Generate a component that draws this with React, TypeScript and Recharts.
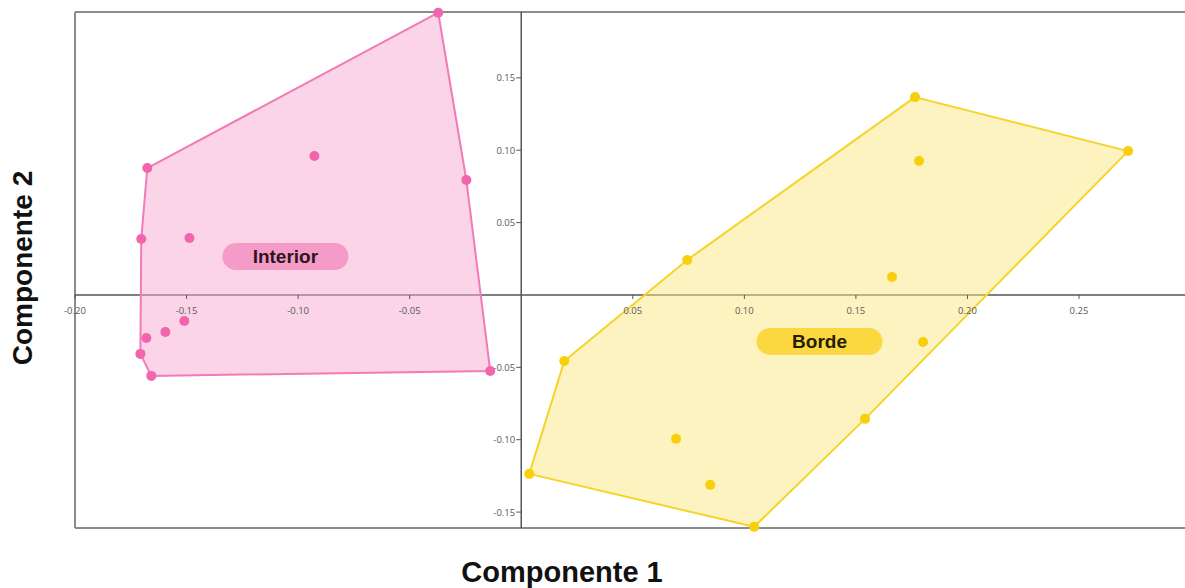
import React from 'react'
import { ScatterChart, Scatter, XAxis, YAxis, ReferenceLine } from 'recharts'

// Component scores for each group
const interiorX = [-0.0372, -0.1676, -0.0927, -0.0246, -0.1703, -0.1487, -0.151, -0.1595, -0.168, -0.1707, -0.1658, -0.0139]
const interiorY = [0.195, 0.0877, 0.096, 0.0794, 0.0387, 0.0394, -0.018, -0.0256, -0.0297, -0.0407, -0.0559, -0.0525]
// convex hull, clockwise, as indices into the arrays above
const interiorHull = [0, 3, 11, 10, 9, 4, 1]

const bordeX = [0.1765, 0.272, 0.1783, 0.0744, 0.1662, 0.1801, 0.1541, 0.0694, 0.0847, 0.1044, 0.0193, 0.0036]
const bordeY = [0.1367, 0.0994, 0.0925, 0.0242, 0.0124, -0.0325, -0.0856, -0.0994, -0.1312, -0.1602, -0.0456, -0.1236]
const bordeHull = [0, 1, 6, 9, 11, 10, 3]

const groupNames = ['Interior', 'Borde']
const groupLabelX = [-0.1057, 0.1337]
const groupLabelY = [0.0266, -0.0321]

const xTicks = [-0.2, -0.15, -0.1, -0.05, 0.05, 0.1, 0.15, 0.2, 0.25]
const yTicks = [0.15, 0.1, 0.05, -0.05, -0.1, -0.15]

const xDomain = [-0.2, 0.2975]
const yDomain = [-0.161, 0.1955]

const PINK = { dot: '#f264ab', line: '#f27ab8', fill: 'rgba(248, 170, 210, 0.5)', badge: '#f59bc8', text: '#2b1620' }
const YELLOW = { dot: '#f8cf0a', line: '#f5d42a', fill: 'rgba(252, 232, 130, 0.5)', badge: '#fcd840', text: '#241d00' }

const toPoints = (xs: number[], ys: number[]) => xs.map((x, i) => ({ x, y: ys[i] }))
const interiorPts = toPoints(interiorX, interiorY)
const bordePts = toPoints(bordeX, bordeY)
const interiorHullPts = interiorHull.map(i => interiorPts[i])
const bordeHullPts = bordeHull.map(i => bordePts[i])
const labelPts = groupNames.map((name, i) => ({ x: groupLabelX[i], y: groupLabelY[i], name }))
const xTickPts = xTicks.map(x => ({ x, y: 0 }))
const yTickPts = yTicks.map(y => ({ x: 0, y }))

const tickFont = { fontFamily: '"Open Sans", sans-serif', fontSize: 9.5, fill: '#5a5a5a' }

const emptyShape = () => <g />

function hullPolygon(fill: string, stroke: string) {
  return (p: any) => (
    <polygon
      points={(p.points || []).map((pt: any) => `${pt.x},${pt.y}`).join(' ')}
      fill={fill}
      stroke={stroke}
      strokeWidth={2}
      strokeLinejoin="round"
    />
  )
}

function dot(color: string) {
  return (p: any) => <circle cx={p.cx} cy={p.cy} r={5} fill={color} />
}

function Badge(p: any) {
  const c = p.payload.name === 'Interior' ? PINK : YELLOW
  return (
    <g>
      <rect x={p.cx - 63} y={p.cy - 13.5} width={126} height={27} rx={13.5} fill={c.badge} />
      <text
        x={p.cx}
        y={p.cy + 7}
        textAnchor="middle"
        fontFamily='"Liberation Sans", Arial, sans-serif'
        fontWeight="bold"
        fontSize={19}
        fill={c.text}
      >
        {p.payload.name}
      </text>
    </g>
  )
}

function XTick(p: any) {
  return (
    <g>
      <line x1={p.cx} y1={p.cy} x2={p.cx} y2={p.cy + 4} stroke="#555" strokeWidth={1} />
      <text x={p.cx} y={p.cy + 19} textAnchor="middle" {...tickFont}>
        {p.payload.x.toFixed(2)}
      </text>
    </g>
  )
}

function YTick(p: any) {
  return (
    <g>
      <line x1={p.cx - 5} y1={p.cy} x2={p.cx} y2={p.cy} stroke="#555" strokeWidth={1} />
      <text x={p.cx - 6} y={p.cy + 3.5} textAnchor="end" {...tickFont}>
        {p.payload.y.toFixed(2)}
      </text>
    </g>
  )
}

const titleStyle: React.CSSProperties = {
  position: 'absolute',
  fontFamily: '"Liberation Sans", Arial, sans-serif',
  fontWeight: 'bold',
  color: '#111',
  whiteSpace: 'nowrap',
  lineHeight: 1,
}

export default function App() {
  return (
    <div style={{ position: 'absolute', left: 0, top: 0, width: 1185, height: 588, background: '#fff' }}>
      <ScatterChart width={1185} height={588} margin={{ top: 12, right: 0, bottom: 60, left: 75 }}>
        <XAxis type="number" dataKey="x" domain={xDomain} hide />
        <YAxis type="number" dataKey="y" domain={yDomain} hide />

        {/* plot frame */}
        <ReferenceLine y={yDomain[1]} stroke="#8c8c8c" strokeWidth={2} />
        <ReferenceLine y={yDomain[0]} stroke="#8c8c8c" strokeWidth={2} />
        <ReferenceLine x={xDomain[0]} stroke="#8c8c8c" strokeWidth={2} />

        <Scatter data={interiorHullPts} shape={emptyShape} line={hullPolygon(PINK.fill, PINK.line)} isAnimationActive={false} />
        <Scatter data={bordeHullPts} shape={emptyShape} line={hullPolygon(YELLOW.fill, YELLOW.line)} isAnimationActive={false} />

        {/* axes through the origin */}
        <ReferenceLine y={0} stroke="#555" strokeWidth={1.5} />
        <ReferenceLine x={0} stroke="#555" strokeWidth={1.5} />
        <Scatter data={xTickPts} shape={XTick} isAnimationActive={false} />
        <Scatter data={yTickPts} shape={YTick} isAnimationActive={false} />

        <Scatter data={interiorPts} shape={dot(PINK.dot)} isAnimationActive={false} />
        <Scatter data={bordePts} shape={dot(YELLOW.dot)} isAnimationActive={false} />
        <Scatter data={labelPts} shape={Badge} isAnimationActive={false} />
      </ScatterChart>

      <div style={{ ...titleStyle, fontSize: 29, left: 562, top: 558, transform: 'translateX(-50%)' }}>Componente 1</div>
      <div
        style={{
          ...titleStyle,
          fontSize: 28,
          left: 23,
          top: 268,
          transform: 'translate(-50%, -50%) rotate(-90deg)',
        }}
      >
        Componente 2
      </div>
    </div>
  )
}
